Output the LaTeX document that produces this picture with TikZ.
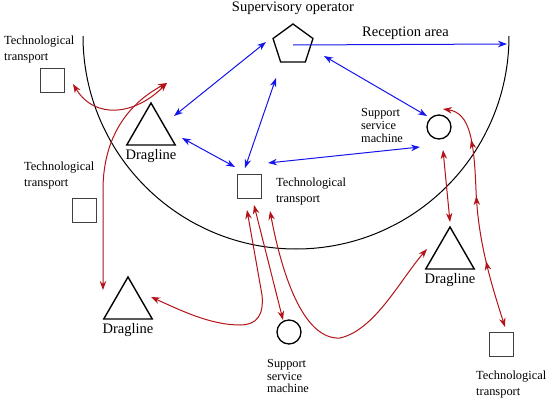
\documentclass[tikz,border=0pt]{standalone}
\usepackage{fontspec}
\setmainfont{Liberation Serif}
\usetikzlibrary{shapes.geometric, arrows.meta, positioning, calc, decorations.markings}
\definecolor{flowblue}{RGB}{20,20,235}
\definecolor{flowred}{RGB}{178,18,24}

\begin{document}
\begin{tikzpicture}[
      x=1pt, y=1pt,
      >={Stealth[length=9pt,width=6.5pt]},
      unit/.style={rectangle, draw=black!75, line width=0.7pt, minimum size=24pt, inner sep=0pt},
      drag/.style={regular polygon, regular polygon sides=3, draw, line width=1.4pt,
                   minimum size=56pt, inner sep=0pt},
      aux/.style={circle, draw, line width=1.3pt, minimum size=24pt, inner sep=0pt},
      boss/.style={regular polygon, regular polygon sides=5, draw, line width=1.3pt,
                   minimum size=42pt, inner sep=0pt},
      big/.style={font=\fontsize{14.5}{16}\selectfont, inner sep=0pt},
      ttlabel/.style={font=\fontsize{12.4}{16}\selectfont, align=left, inner sep=0pt},
      svclabel/.style={font=\fontsize{12.3}{12.8}\selectfont, align=left, inner sep=0pt},
      link/.style={<->, color=flowblue, line width=1pt},
      haul/.style={<->, color=flowred, line width=1pt}
    ]
    \useasboundingbox (0,0) rectangle (550,-402);
    \draw[line width=1pt] (83,-36) arc[start angle=180, end angle=360, radius=213];

    \node[boss] (op) at (293,-45) {};
    \node[big, above=8pt of op] (oplab) {Supervisory operator};
    \node[big] (arealab) at (405.5,-33.5) {Reception area};
    \coordinate (areaend) at (507,-44);

    \node[drag] (d1) at (151,-131) {};
    \node[drag] (d2) at (128,-305) {};
    \node[drag] (d3) at (450,-255) {};
    \node[big, below=3.5pt of d1] (d1lab) {Dragline};
    \node[big, below=3.5pt of d2] (d2lab) {Dragline};
    \node[big, below=3.5pt of d3] (d3lab) {Dragline};

    \node[unit] (tt1) at (52.5,-80) {};
    \node[unit] (tt2) at (84,-210) {};
    \node[unit] (tt3) at (249.5,-186) {};
    \node[unit] (tt4) at (501.5,-344) {};
    \node[ttlabel, anchor=west] (tt1lab) at (4,-49.2) {Technological\\transport};
    \node[ttlabel, anchor=west] (tt2lab) at (24,-175.2) {Technological\\transport};
    \node[ttlabel, right=14pt of tt3, yshift=-5.6pt] (tt3lab) {Technological\\transport};
    \node[ttlabel, anchor=west] (tt4lab) at (476,-385) {Technological\\transport};

    \node[aux] (c1) at (439,-127) {};
    \node[aux] (c2) at (289,-332) {};
    \node[svclabel, anchor=west] (c1lab) at (361,-125.3) {Support\\service\\machine};
    \node[svclabel, anchor=west] (c2lab) at (267,-376) {Support\\service\\machine};

    \draw[link, ->] (op.center) -- (areaend);
    \draw[link] ($(op)+(-27,3)$) -- ($(d1)+(23,15)$);
    \draw[link] ($(op)+(-17,-33)$) -- ($(tt3)+(-4.5,18)$);
    \draw[link] ($(op)+(31,-11)$) -- ($(c1)+(-12,11)$);
    \draw[link] ($(d1)+(31,-7)$) -- ($(tt3)+(-14.5,19)$);
    \draw[link] ($(tt3)+(18.5,23)$) -- ($(c1)+(-19,-20)$);

    \draw[haul] ($(tt1)+(20.5,-4)$) .. controls (95,-120) and (135,-115) .. ($(d1)+(16,48)$);
    \draw[haul] ($(d2)+(-25,15)$) -- (103,-190) .. controls (103,-130) and (135,-100) .. ($(d1)+(16,48)$);
    \draw[haul] ($(tt3)+(-2.5,-24)$) -- (262,-295) .. controls (264,-315) and (257,-325) .. (240,-325)
      .. controls (210,-325) and (180,-310) .. ($(d2)+(23,8)$);
    \draw[haul] ($(tt3)+(4.5,-19)$) -- ($(c2)+(-6,12)$);
    \draw[haul] ($(tt3)+(20.5,-25)$) .. controls (283,-280) and (305,-340) .. (340,-338)
      .. controls (375,-330) and (400,-280) .. ($(d3)+(-23,6)$);
    \draw[haul] ($(c1)+(4,-23)$) -- ($(d3)+(0,33)$);
    \draw[haul, postaction={decorate, decoration={markings,
        mark=at position 0.19 with {\arrowreversed{>}},
        mark=at position 0.43 with {\arrowreversed{>}},
        mark=at position 0.71 with {\arrowreversed{>}}}}]
      ($(c1)+(4,18)$) .. controls (470,-113) and (474,-140) .. (476,-190)
      .. controls (478,-240) and (490,-280) .. ($(tt4)+(3.5,17)$);
  \end{tikzpicture}
\end{document}
